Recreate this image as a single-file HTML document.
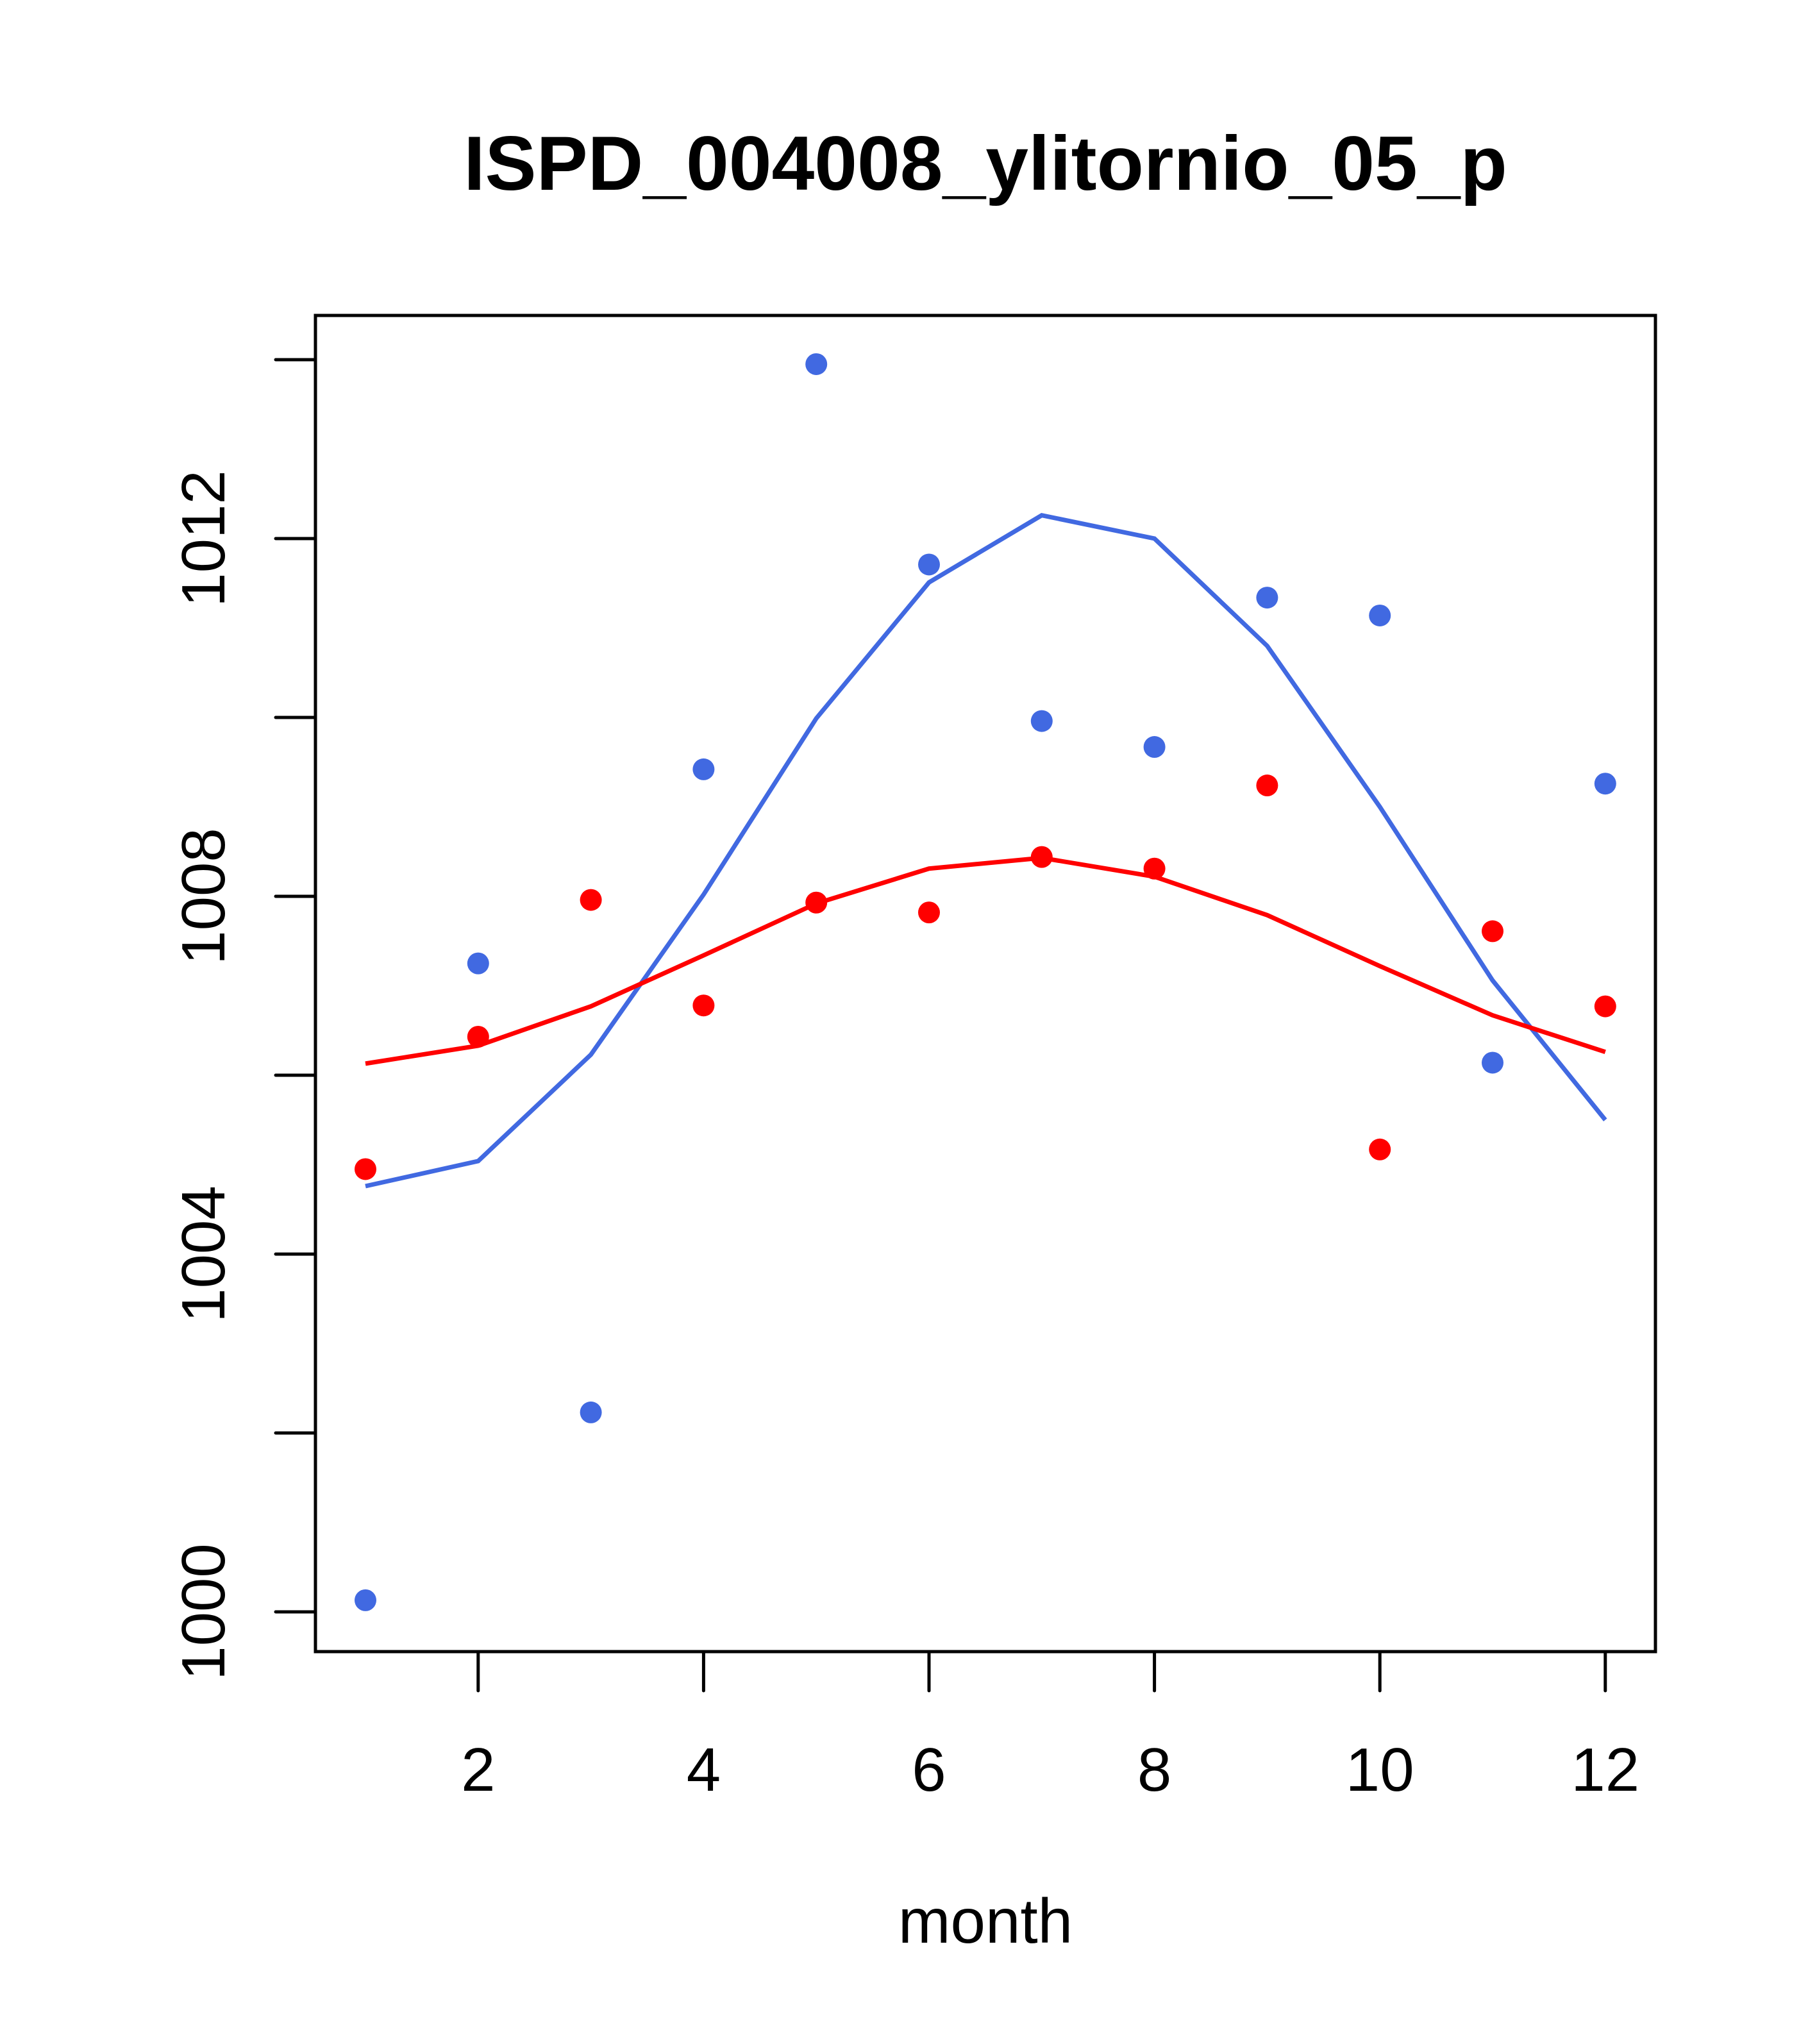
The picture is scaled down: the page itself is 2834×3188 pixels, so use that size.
<!DOCTYPE html>
<html><head><meta charset="utf-8"><style>
html,body{margin:0;padding:0;background:#fff;}
svg{display:block;font-family:"Liberation Sans",sans-serif;}
</style></head><body>
<svg id="chart" width="2834" height="3188" viewBox="0 0 2834 3188">
<text x="1537" y="296" text-anchor="middle" font-size="120" font-weight="bold">ISPD_004008_ylitornio_05_p</text>
<rect x="492" y="492" width="2090" height="2084" fill="none" stroke="#000" stroke-width="5"/>
<g id="axes"></g>
<g id="series"></g>
<text x="1537" y="3030" text-anchor="middle" font-size="98">month</text>
</svg>
<script>
const months = [1,2,3,4,5,6,7,8,9,10,11,12];
const bluePoints = [1000.13,1007.25,1002.23,1009.42,1013.95,1011.71,1009.96,1009.67,1011.34,1011.14,1006.14,1009.26];
const redPoints = [1004.95,1006.43,1007.96,1006.78,1007.93,1007.82,1008.44,1008.31,1009.24,1005.17,1007.61,1006.77];
const blueLine = [1004.76,1005.04,1006.23,1008.02,1009.99,1011.51,1012.26,1012.0,1010.80,1009.0,1007.06,1005.50];
const redLine = [1006.13,1006.33,1006.77,1007.34,1007.92,1008.31,1008.43,1008.22,1007.79,1007.22,1006.67,1006.26];
const xTicks = [2,4,6,8,10,12];
const yTicks = [1000,1002,1004,1006,1008,1010,1012,1014];
const yLabels = [1000,1004,1008,1012];

const NS = "http://www.w3.org/2000/svg";
const sx = m => 570 + (m - 1) * 175.8;
const sy = v => 2514 - (v - 1000) * 139.5;
const axes = document.getElementById('axes');
const series = document.getElementById('series');
function mk(tag, attrs, parent){
  const e = document.createElementNS(NS, tag);
  for (const k in attrs) e.setAttribute(k, attrs[k]);
  parent.appendChild(e);
  return e;
}
xTicks.forEach(t => {
  const l = mk('line', {x1:sx(t), x2:sx(t), y1:2576, y2:2637, stroke:'#000', 'stroke-width':5, 'stroke-linecap':'round'}, axes);
  
  
  const tx = mk('text', {x:sx(t), y:2793, 'text-anchor':'middle', 'font-size':96}, axes);
  tx.textContent = t;
  
  
});
yTicks.forEach(t => {
  const l = mk('line', {x1:430, x2:492, y1:sy(t), y2:sy(t), stroke:'#000', 'stroke-width':5, 'stroke-linecap':'round'}, axes);
  
  
});
yLabels.forEach(t => {
  const tx = mk('text', {x:0, y:0, 'text-anchor':'middle', 'font-size':96, transform:'translate(350,' + sy(t) + ') rotate(-90)'}, axes);
  tx.textContent = t;
  
  
});
function drawLine(vals, color, name){
  const p = mk('polyline', {points: vals.map((v,i) => sx(months[i]) + ',' + sy(v)).join(' '), fill:'none', stroke:color, 'stroke-width':7}, series);
  
  
}
function drawPoints(vals, color, name){
  vals.forEach((v,i) => {
    const c = mk('circle', {cx:sx(months[i]), cy:sy(v), r:17, fill:color}, series);
    
    
  });
}
drawLine(blueLine, '#4169E1', 'blue-fit-line');
drawLine(redLine, '#FF0000', 'red-fit-line');
drawPoints(bluePoints, '#4169E1', 'blue-point');
drawPoints(redPoints, '#FF0000', 'red-point');
</script>
</body></html>
